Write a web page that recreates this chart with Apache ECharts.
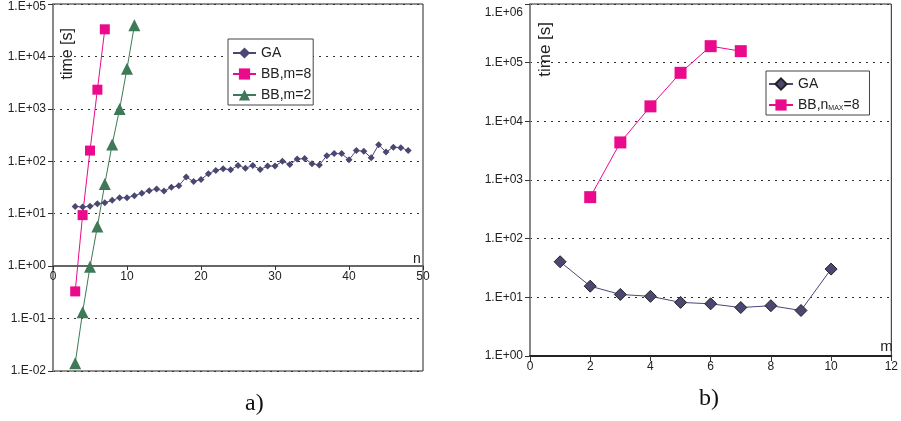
<!DOCTYPE html>
<html>
<head>
<meta charset="utf-8">
<script src="https://cdn.jsdelivr.net/npm/echarts@6/dist/echarts.min.js"></script>
<style>
html,body{margin:0;padding:0;background:#fff;}
#c{width:901px;height:421px;}
</style>
</head>
<body>
<div id="c"></div>
<script>
// ---- data: chart a) time vs n ----
const gaN = [3,4,5,6,7,8,9,10,11,12,13,14,15,16,17,18,19,20,21,22,23,24,25,26,27,28,29,30,31,32,33,34,35,36,37,38,39,40,41,42,43,44,45,46,47,48];
const gaTime = [13.8,13.4,13.9,15.5,16.2,18,20.2,20.2,22,24.7,27.5,29.5,27,31.8,34,50,41,45,58,67,72,69,83,74,83,70,81,81,100,87,110,113,90,85,128,140,140,107,161,155,117,207,150,186,182,161];
const bb8N = [3,4,5,6,7];
const bb8Time = [0.33,9.4,160,2320,32900];
const bb2N = [3,4,5,6,7,8,9,10,11];
const bb2Time = [0.014,0.132,0.97,5.7,37,210,990,5850,39200];
const xTicksA = [0,10,20,30,40,50];

// ---- data: chart b) time vs m ----
const gaM = [1,2,3,4,5,6,7,8,9,10];
const gaTimeM = [40.4,15.5,11.2,10.4,8.2,7.75,6.7,7.2,5.97,30.3];
const bbM = [2,3,4,5,6,7];
const bbTimeM = [510,4370,18000,67100,191000,157000];
const xTicksB = [0,2,4,6,8,10,12];

const pair = (xs, ys) => xs.map((x, i) => [x, ys[i]]);
const FONT = "'Liberation Sans', Arial, sans-serif";
const C_GA = '#4a4873', C_BB = '#ea0a8c', C_G = '#3e7a58';

function fmtExp(v) {
  const e = Math.round(Math.log10(v));
  const s = (e < 0 ? '-' : '+') + String(Math.abs(e)).padStart(2, '0');
  return '1.E' + s;
}
function yLabel(maxV, shift) {
  return {
    fontSize: 12, color: '#222', fontFamily: FONT, margin: 7,
    formatter: v => (Math.abs(v - maxV) < maxV * 1e-6 ? '{t|' + fmtExp(v) + '}' : fmtExp(v)),
    rich: { t: { fontSize: 12, color: '#222', fontFamily: FONT, padding: [shift, 0, 0, 0] } }
  };
}
const dotted = { show: true, lineStyle: { type: [2, 5], color: '#333', width: 1 } };

const option = {
  animation: false,
  backgroundColor: '#fff',
  textStyle: { fontFamily: FONT },
  grid: [
    { left: 53, top: 4, width: 370, height: 367, show: true, borderColor: '#222', borderWidth: 1, backgroundColor: 'transparent' },
    { left: 530, top: 4, width: 367, height: 352, show: true, borderColor: '#222', borderWidth: 1, backgroundColor: 'transparent' }
  ],
  xAxis: [
    {
      type: 'value', gridIndex: 0, min: xTicksA[0], max: xTicksA[xTicksA.length - 1], interval: 10,
      position: 'bottom', offset: -105,
      axisLine: { show: true, onZero: false, lineStyle: { color: '#666', width: 2 } },
      axisTick: { show: true, length: 4, lineStyle: { color: '#333' } },
      axisLabel: { fontSize: 12, color: '#222', fontFamily: FONT, margin: 5 },
      splitLine: { show: false },
      name: 'n', nameLocation: 'end', nameGap: -10,
      nameTextStyle: { fontSize: 14, color: '#222', verticalAlign: 'bottom', fontFamily: FONT }
    },
    {
      type: 'value', gridIndex: 1, min: xTicksB[0], max: xTicksB[xTicksB.length - 1], interval: 2,
      position: 'bottom',
      axisLine: { show: true, onZero: false, lineStyle: { color: '#222', width: 2 } },
      axisTick: { show: true, length: 5, lineStyle: { color: '#333' } },
      axisLabel: { fontSize: 12, color: '#222', fontFamily: FONT, margin: 5 },
      splitLine: { show: false },
      name: 'm', nameLocation: 'end', nameGap: -11,
      nameTextStyle: { fontSize: 15, color: '#222', verticalAlign: 'bottom', fontFamily: FONT, padding: [0, 0, 2, 0] }
    }
  ],
  yAxis: [
    {
      type: 'log', logBase: 10, gridIndex: 0, min: 0.01, max: 100000,
      axisLine: { show: true, lineStyle: { color: '#888', width: 2 } },
      axisTick: { show: true, length: 5, lineStyle: { color: '#333' } },
      axisLabel: yLabel(100000, 6),
      splitLine: dotted
    },
    {
      type: 'log', logBase: 10, gridIndex: 1, min: 1, max: 1000000,
      axisLine: { show: true, lineStyle: { color: '#888', width: 2 } },
      axisTick: { show: true, length: 5, lineStyle: { color: '#333' } },
      axisLabel: yLabel(1000000, 18),
      splitLine: dotted
    }
  ],
  legend: [
    {
      orient: 'vertical', left: 228, top: 39, padding: [7, 2, 3, 4], itemGap: 7,
      itemWidth: 23, itemHeight: 14, borderColor: '#444', borderWidth: 1, backgroundColor: '#fff',
      textStyle: { fontSize: 14, color: '#222', fontFamily: FONT },
      data: ['GA', 'BB,m=8', 'BB,m=2']
    },
    {
      orient: 'vertical', left: 766, top: 71, padding: [6, 10, 3, 2], itemGap: 7,
      itemWidth: 24, itemHeight: 14, borderColor: '#444', borderWidth: 1, backgroundColor: '#fff',
      textStyle: {
        fontSize: 14, color: '#222', fontFamily: FONT,
        rich: { s: { fontSize: 7, color: '#222', fontFamily: FONT, verticalAlign: 'bottom', padding: [7, 0, 0, 0] } }
      },
      formatter: name => (name === 'BB,nMAX=8' ? 'BB,n{s|MAX}=8' : name),
      data: ['GA ', 'BB,nMAX=8']
    }
  ],
  series: [
    { name: 'GA', type: 'line', xAxisIndex: 0, yAxisIndex: 0, data: pair(gaN, gaTime),
      symbol: 'diamond', symbolSize: 7, color: C_GA, lineStyle: { width: 1, color: C_GA }, itemStyle: { color: C_GA } },
    { name: 'BB,m=8', type: 'line', xAxisIndex: 0, yAxisIndex: 0, data: pair(bb8N, bb8Time),
      symbol: 'rect', symbolSize: 10, color: C_BB, lineStyle: { width: 1, color: C_BB }, itemStyle: { color: C_BB } },
    { name: 'BB,m=2', type: 'line', xAxisIndex: 0, yAxisIndex: 0, data: pair(bb2N, bb2Time),
      symbol: 'triangle', symbolSize: 12, color: C_G, lineStyle: { width: 1, color: C_G }, itemStyle: { color: C_G } },
    { name: 'GA ', type: 'line', xAxisIndex: 1, yAxisIndex: 1, data: pair(gaM, gaTimeM),
      symbol: 'diamond', symbolSize: 12, color: C_GA, lineStyle: { width: 1, color: C_GA },
      itemStyle: { color: C_GA, borderColor: '#222', borderWidth: 1 } },
    { name: 'BB,nMAX=8', type: 'line', xAxisIndex: 1, yAxisIndex: 1, data: pair(bbM, bbTimeM),
      symbol: 'rect', symbolSize: 12, color: C_BB, lineStyle: { width: 1, color: C_BB }, itemStyle: { color: C_BB } }
  ],
  graphic: [
    { type: 'text', left: 60, top: 28, rotation: Math.PI / 2,
      style: { text: 'time [s]', fill: '#222', font: "16px 'Liberation Sans', Arial" } },
    { type: 'text', left: 537, top: 22, rotation: Math.PI / 2,
      style: { text: 'time [s]', fill: '#222', font: "17px 'Liberation Sans', Arial" } },
    { type: 'text', left: 245, top: 392,
      style: { text: 'a)', fill: '#111', font: "24px 'Liberation Serif', 'DejaVu Serif', serif" } },
    { type: 'text', left: 699, top: 387,
      style: { text: 'b)', fill: '#111', font: "24px 'Liberation Serif', 'DejaVu Serif', serif" } }
  ]
};

const chart = echarts.init(document.getElementById('c'), null, { renderer: 'canvas' });
chart.setOption(option);
</script>
</body>
</html>
